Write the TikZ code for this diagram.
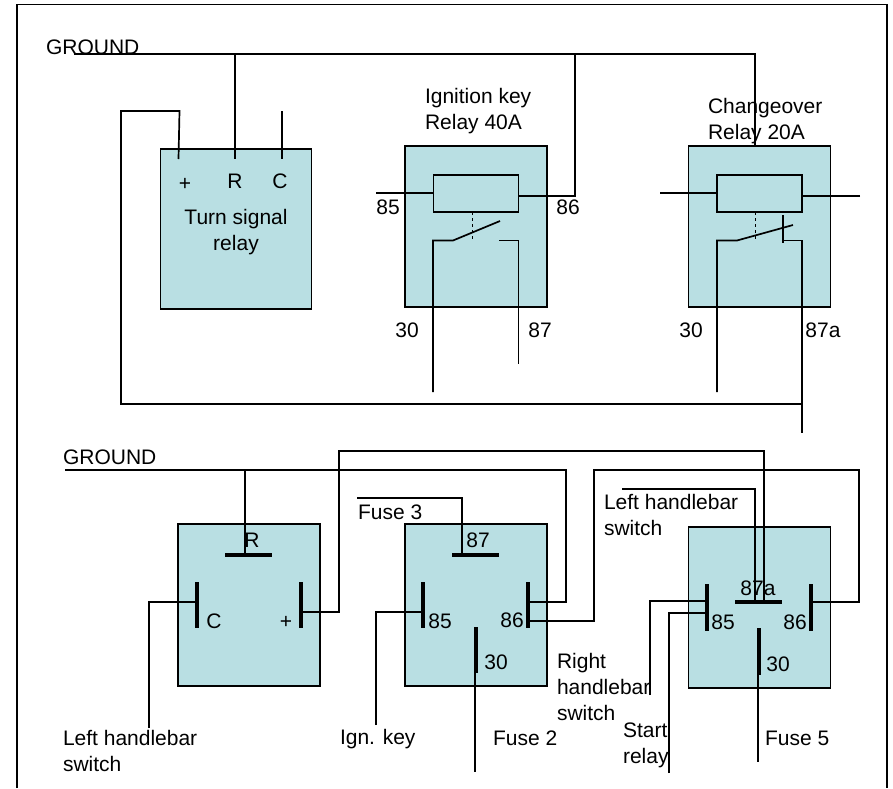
\documentclass[tikz,border=0pt]{standalone}
\usepackage{fontspec}
\setmainfont{Liberation Sans}
\definecolor{relayfill}{HTML}{B9DFE3}
\tikzset{
  relaybox/.style={draw, line width=1.8pt, fill=relayfill, inner sep=0pt, outer sep=0pt},
  wire/.style={line width=1.7pt},
  bar/.style={line width=4pt},
  lbl/.style={inner sep=0pt, outer sep=0pt, align=left, font=\fontsize{21}{25.8}\selectfont},
  lblw/.style={lbl, anchor=west}
}
\begin{document}
\begin{tikzpicture}[x=1pt,y=-1pt]
    \useasboundingbox (0,0) rectangle (893,788);
    \draw[line width=1.8pt] (17,788) -- (17,4.5) -- (887,4.5) -- (887,788);

    % upper relays
    \node[relaybox, minimum width=151pt, minimum height=160pt] (turnbox) at (236,229) {};
    \node[relaybox, minimum width=142pt, minimum height=161pt] (ignbox) at (476,226.5) {};
    \node[relaybox, minimum width=142pt, minimum height=161pt] (chgbox) at (759.5,226.5) {};
    \node[relaybox, minimum width=85pt, minimum height=37pt] (igncoil) at (476,193.5) {};
    \node[relaybox, minimum width=85pt, minimum height=37pt] (chgcoil) at (759.5,193.5) {};

    % lower relays
    \node[relaybox, minimum width=142pt, minimum height=162pt] (leftbox) at (249,605) {};
    \node[relaybox, minimum width=142pt, minimum height=162pt] (midbox) at (476,605) {};
    \node[relaybox, minimum width=142pt, minimum height=161pt] (rightbox) at (759.5,607.5) {};

    % upper ground and turn signal wires
    \coordinate (gndstart) at (74,54);
    \coordinate (gndturn) at (235,54);
    \coordinate (gndign) at (575,54);
    \coordinate (gndchg) at (755,54);
    \coordinate (chgtop) at (755,146);
    \coordinate (turnr) at (235,159);
    \coordinate (turnc) at (282,159);
    \coordinate (turnctop) at (282,111);
    \coordinate (turnp) at (178.5,159);
    \coordinate (turnptop) at (179.5,111);
    \coordinate (loopcorner) at (121,111);
    \coordinate (loopend) at (802,404);
    \coordinate (ignright) at (575,196);
    \draw[wire] (gndstart) -- (gndchg) -- (chgtop);
    \draw[wire] (gndturn) -- (turnr);
    \draw[wire] (gndign) -- (ignright) -- (igncoil.east |- ignright);
    \draw[wire] (turnctop) -- (turnc);
    \draw[wire] (turnp) -- (turnptop) -- (loopcorner) |- (loopend);

    % ignition relay
    \coordinate (ignleft) at (376,193);
    \coordinate (igndashtop) at (472,212);
    \coordinate (igndashend) at (472,241);
    \coordinate (ignthirty) at (433,392);
    \coordinate (ignknee) at (433,240.5);
    \coordinate (ignpivot) at (453,240.5);
    \coordinate (ignblade) at (500,221);
    \coordinate (igncontact) at (499,240.5);
    \coordinate (ignbend) at (518.5,240.5);
    \coordinate (ignseven) at (518.5,364);
    \draw[wire] (ignleft) -- (igncoil.west |- ignleft);
    \draw[dashed, line width=.8pt] (igndashtop) -- (igndashend);
    \draw[wire] (ignthirty) -- (ignknee) -- (ignpivot) -- (ignblade);
    \draw[wire] (igncontact) -- (ignbend) -- (ignseven);

    % changeover relay
    \coordinate (chgleft) at (660,193);
    \coordinate (chgright) at (860,196);
    \coordinate (chgdashtop) at (755,212);
    \coordinate (chgdashend) at (755,241);
    \coordinate (chgthirty) at (717,392);
    \coordinate (chgknee) at (717,240.5);
    \coordinate (chgpivot) at (737,240.5);
    \coordinate (chgblade) at (793,225);
    \coordinate (chgstoptop) at (783,215);
    \coordinate (chgstopend) at (783,243);
    \coordinate (chgstop) at (783,240.5);
    \coordinate (chgbend) at (802,240.5);
    \coordinate (chgout) at (802,363);
    \coordinate (chgtail) at (802,357);
    \coordinate (chgtailend) at (802,433);
    \draw[wire] (chgleft) -- (chgcoil.west |- chgleft);
    \draw[wire] (chgright) -- (chgcoil.east |- chgright);
    \draw[dashed, line width=.8pt] (chgdashtop) -- (chgdashend);
    \draw[wire] (chgthirty) -- (chgknee) -- (chgpivot) -- (chgblade);
    \draw[wire] (chgstoptop) -- (chgstopend);
    \draw[wire] (chgstop) -- (chgbend) -- (chgout);
    \draw[wire] (chgtail) -- (chgtailend);

    % lower left relay
    \coordinate (m86top) at (527.7,602);
    \coordinate (r87mid) at (764,602);
    \coordinate (lgndstart) at (65,470);
    \coordinate (lgndr) at (245,470);
    \coordinate (lgndbend) at (566,470);
    \coordinate (lrbarl) at (225,554.5);
    \coordinate (lrbarr) at (272,554.5);
    \coordinate (lrmid) at (245,554.5);
    \coordinate (lcbart) at (197,582);
    \coordinate (lcbarb) at (197,628);
    \coordinate (lcend) at (149,728);
    \coordinate (lcin) at (197,602);
    \coordinate (lpbart) at (300.5,582);
    \coordinate (lpbarb) at (300.5,628);
    \coordinate (lpin) at (300.5,612);
    \coordinate (lpout) at (339,612);
    \coordinate (toprun) at (339,451);
    \coordinate (toprunend) at (764,451);
    \draw[wire] (lgndstart) -- (lgndbend) |- (m86top);
    \draw[wire] (lgndr) -- (lrmid);
    \draw[bar] (lrbarl) -- (lrbarr);
    \draw[bar] (lcbart) -- (lcbarb);
    \draw[bar] (lpbart) -- (lpbarb);
    \draw[wire] (lcend) |- (lcin);
    \draw[wire] (lpin) -- (lpout) -- (toprun) -- (toprunend) -- (r87mid);

    % lower middle relay
    \coordinate (fusethree) at (357,498);
    \coordinate (m87bend) at (462,498);
    \coordinate (m87mid) at (462,554.5);
    \coordinate (m87l) at (452,554.5);
    \coordinate (m87r) at (499,554.5);
    \coordinate (m85t) at (423,582);
    \coordinate (m85b) at (423,628);
    \coordinate (m85in) at (423,612);
    \coordinate (ignkey) at (376,725);
    \coordinate (m86t) at (527.7,582);
    \coordinate (m86b) at (527.7,628);
    \coordinate (m86low) at (527.7,621);
    \coordinate (m86bend) at (594,621);
    \coordinate (m86up) at (594,470);
    \coordinate (m86over) at (859,470);
    \coordinate (m86down) at (859,602);
    \coordinate (r86in) at (811,602);
    \coordinate (m30t) at (476,627);
    \coordinate (m30b) at (476,673);
    \coordinate (m30end) at (475,772);
    \coordinate (m30in) at (475,670);
    \draw[wire] (fusethree) -- (m87bend) -- (m87mid);
    \draw[bar] (m87l) -- (m87r);
    \draw[bar] (m85t) -- (m85b);
    \draw[bar] (m86t) -- (m86b);
    \draw[bar] (m30t) -- (m30b);
    \draw[wire] (ignkey) |- (m85in);
    \draw[wire] (m86low) -- (m86bend) -- (m86up) -- (m86over) -- (m86down) -- (r86in);
    \draw[wire] (m30in) -- (m30end);

    % lower right relay
    \coordinate (leftsw) at (622,489);
    \coordinate (r87bend) at (755,489);
    \coordinate (r87in) at (755,602);
    \coordinate (r87l) at (735,602);
    \coordinate (r87r) at (782,602);
    \coordinate (r85t) at (707,584);
    \coordinate (r85b) at (707,631);
    \coordinate (r86t) at (811,584);
    \coordinate (r86b) at (811,631);
    \coordinate (r85upper) at (705,601);
    \coordinate (r85lower) at (707,613);
    \coordinate (rightsw) at (650,695);
    \coordinate (startrelay) at (669,773);
    \coordinate (r30t) at (759,628);
    \coordinate (r30b) at (759,675);
    \coordinate (r30in) at (758,672);
    \coordinate (r30end) at (758,762);
    \draw[wire] (leftsw) -- (r87bend) -- (r87in);
    \draw[bar] (r87l) -- (r87r);
    \draw[bar] (r85t) -- (r85b);
    \draw[bar] (r86t) -- (r86b);
    \draw[bar] (r30t) -- (r30b);
    \draw[wire] (rightsw) |- (r85upper);
    \draw[wire] (startrelay) |- (r85lower);
    \draw[wire] (r30in) -- (r30end);

    % labels, top half
    \node[lblw] (gndtop) at (46,47) {GROUND};
    \node[lbl] (tplus) at (185,184) {+};
    \node[lbl] (tr) at (235,181) {R};
    \node[lbl] (tc) at (280,181) {C};
    \node[lbl, align=center] (turnlabel) at (236,232) {Turn signal\\relay};
    \node[lblw] (ignlabel) at (425,111) {Ignition key\\Relay 40A};
    \node[lblw] (chglabel) at (708,121) {Changeover\\Relay 20A};
    \node[lbl] (ign85) at (388,207) {85};
    \node[lbl] (ign86) at (568,207) {86};
    \node[lbl] (ign30) at (407,330) {30};
    \node[lbl] (ign87) at (540,330) {87};
    \node[lbl] (chg30) at (691,330) {30};
    \node[lbl] (chg87a) at (823,330) {87a};

    % labels, bottom half
    \node[lblw] (gndlow) at (63,457) {GROUND};
    \node[lbl] (lr) at (252,540) {R};
    \node[lbl] (lc) at (214,621) {C};
    \node[lbl] (lp) at (286,622) {+};
    \node[lblw] (lsw) at (63,751) {Left handlebar\\switch};
    \node[lblw] (ignlow) at (340,739) {Ign. key};
    \node[lblw] (fuse3) at (358,512) {Fuse 3};
    \node[lbl] (m87) at (478,540) {87};
    \node[lbl] (m85) at (440,621) {85};
    \node[lbl] (m86) at (512,620) {86};
    \node[lbl] (m30) at (496,662) {30};
    \node[lblw] (fuse2) at (493,738) {Fuse 2};
    \node[lblw] (rsw) at (557,687) {Right\\handlebar\\switch};
    \node[lblw] (lsw2) at (604,515) {Left handlebar\\switch};
    \node[lblw] (start) at (623,745) {Start\\relay};
    \node[lbl] (r87a) at (758,588) {87a};
    \node[lbl] (r85) at (723,622) {85};
    \node[lbl] (r86) at (795,622) {86};
    \node[lbl] (r30) at (778,664) {30};
    \node[lblw] (fuse5) at (765,738) {Fuse 5};
\end{tikzpicture}
\end{document}
